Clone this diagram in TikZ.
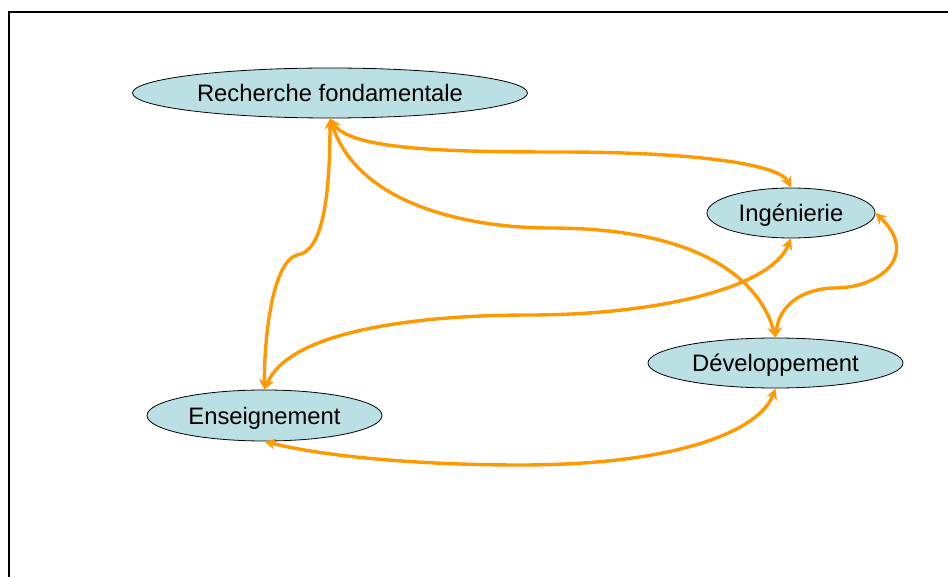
\documentclass[tikz,border=0pt]{standalone}
\usepackage{fontspec}
\setmainfont{Liberation Sans}
\usetikzlibrary{arrows.meta,shapes.geometric}
\definecolor{nodefill}{RGB}{187,224,227}
\definecolor{linkorange}{RGB}{255,153,0}
\begin{document}
\begin{tikzpicture}[x=1pt,y=-1pt,
  oval/.style={ellipse,draw=black,line width=0.8pt,fill=nodefill,inner sep=0pt,text height=18pt,text depth=1pt,font=\fontsize{23.8}{27}\selectfont},
  link/.style={draw=linkorange,line width=3.4pt,{Stealth[length=11pt,width=11pt]}-{Stealth[length=11pt,width=11pt]}}]
\useasboundingbox (0,0) rectangle (948,577);
\draw[line width=2pt] (9,600) -- (9,12.5) -- (960,12.5);
\node[oval,minimum width=395pt,minimum height=50pt] (rf) at (330,93) {Recherche fondamentale};
\node[oval,minimum width=168pt,minimum height=50pt] (ing) at (791,213) {Ingénierie};
\node[oval,minimum width=255pt,minimum height=50pt] (dev) at (775.5,363) {Développement};
\node[oval,minimum width=235pt,minimum height=51pt] (ens) at (264.5,415.5) {Enseignement};
\draw[link] (rf.south) .. controls (350,150) and (450,152) .. (560,152) .. controls (700,152) and (780,165) .. (ing.north);
\draw[link] (rf.south) .. controls (360,210) and (480,228) .. (550,228) .. controls (700,228) and (760,280) .. (dev.north);
\draw[link] (rf.south) .. controls (330,200) and (322,252) .. (297,255) .. controls (272,262) and (264,340) .. (ens.north);
\draw[link] (ens.north) .. controls (290,330) and (420,315) .. (530,315) .. controls (650,315) and (770,290) .. (ing.south);
\draw[link] (dev.north) .. controls (780,300) and (810,288) .. (835,288) .. controls (880,288) and (920,255) .. (ing.east);
\draw[link] (ens.south) .. controls (330,458) and (430,465) .. (520,465) .. controls (680,465) and (760,430) .. (dev.south);
\end{tikzpicture}
\end{document}
